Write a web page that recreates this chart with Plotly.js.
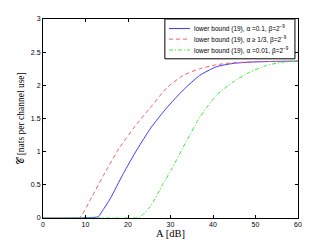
<!DOCTYPE html>
<html><head><meta charset="utf-8">
<script src="https://cdn.plot.ly/plotly-3.0.1.min.js"></script>
<style>html,body{margin:0;padding:0;background:#fff}#plot{width:330px;height:245px}</style>
</head><body><div id="plot"></div>
<script>
var xTicks = [0, 10, 20, 30, 40, 50, 60];
var yTicks = [0, 0.5, 1, 1.5, 2, 2.5, 3];

var blueA = [0, 5, 10, 12, 13, 14, 15.8, 18.9, 22.1, 25.5, 29.1, 33, 36.9, 40.8, 44.7, 48.7, 54, 60];
var blueC = [0, 0, 0.005, 0.01, 0.02, 0.11, 0.29, 0.67, 1.03, 1.37, 1.66, 1.93, 2.15, 2.28, 2.33, 2.35, 2.36, 2.365];

var redA = [0, 5, 8.5, 11.5, 14.2, 18.1, 22.1, 25.2, 29.1, 33, 36.9, 40.8, 44.7, 50, 60];
var redC = [0, 0, 0, 0.32, 0.64, 1.07, 1.42, 1.66, 1.96, 2.15, 2.25, 2.31, 2.34, 2.355, 2.365];

var greenA = [0, 10, 20, 22.4, 23.5, 25.2, 28.3, 30.3, 33, 36.9, 40.8, 44.7, 48.7, 52.6, 56.5, 60];
var greenC = [0, 0, 0, 0.005, 0.05, 0.17, 0.52, 0.74, 1.07, 1.52, 1.85, 2.05, 2.2, 2.3, 2.35, 2.365];

var names = [
  'lower bound (19), α =0.1, β=2<sup>−9</sup>',
  'lower bound (19), α ≥ 1/3, β=2<sup>−9</sup>',
  'lower bound (19), α =0.01, β=2<sup>−9</sup>'
];
var colors = ['#3a3aff', '#ff5a5a', '#33ee33'];
var dashes = ['solid', '4px,3px', '4px,2px,1px,2px'];

var traces = [
  {x: blueA, y: blueC, name: names[0], mode: 'lines', line: {color: colors[0], width: 1, dash: dashes[0], shape: 'spline', smoothing: 0.6}},
  {x: redA, y: redC, name: names[1], mode: 'lines', line: {color: colors[1], width: 1, dash: dashes[1], shape: 'spline', smoothing: 0.6}},
  {x: greenA, y: greenC, name: names[2], mode: 'lines', line: {color: colors[2], width: 1, dash: dashes[2], shape: 'spline', smoothing: 0.6}}
];

// custom compact legend (box, samples, labels) in paper coordinates
var rowY = [0.952, 0.899, 0.844];
var shapes = [{type: 'rect', xref: 'paper', yref: 'paper', x0: 0.478, x1: 0.988, y0: 0.80, y1: 1.0,
  fillcolor: '#fff', line: {color: '#000', width: 1}, layer: 'above'}];
var annotations = [];
for (var i = 0; i < 3; i++) {
  shapes.push({type: 'line', xref: 'paper', yref: 'paper', x0: 0.494, x1: 0.576, y0: rowY[i], y1: rowY[i],
    line: {color: colors[i], width: 1, dash: dashes[i]}, layer: 'above'});
  annotations.push({xref: 'paper', yref: 'paper', x: 0.584, y: rowY[i], xanchor: 'left', yanchor: 'middle',
    text: names[i], showarrow: false, font: {family: 'Liberation Sans, Arial', size: 6.5, color: '#000'}});
}

var axisCommon = {
  showgrid: false, zeroline: false, showline: true, mirror: 'ticks',
  linecolor: '#000', linewidth: 1, ticks: 'inside', ticklen: 3, tickcolor: '#000',
  tickfont: {family: 'Liberation Sans, Arial', size: 7, color: '#000'}
};

var layout = {
  width: 330, height: 245,
  margin: {l: 43, r: 32, t: 19, b: 27},
  paper_bgcolor: '#fff', plot_bgcolor: '#fff',
  showlegend: false,
  shapes: shapes,
  annotations: annotations,
  xaxis: Object.assign({}, axisCommon, {
    range: [0, 60], tickvals: xTicks, ticktext: xTicks.map(String),
    title: {text: 'A [dB]', font: {family: 'Liberation Serif, Times New Roman', size: 10.5, color: '#000'}, standoff: 1}
  }),
  yaxis: Object.assign({}, axisCommon, {
    range: [0, 3], tickvals: yTicks, ticktext: yTicks.map(String),
    title: {text: '𝒞 [nats per channel use]', font: {family: 'Liberation Serif, Times New Roman', size: 9.5, color: '#000'}, standoff: 4}
  })
};

Plotly.newPlot('plot', traces, layout, {staticPlot: true, displayModeBar: false});
</script>
</body></html>
